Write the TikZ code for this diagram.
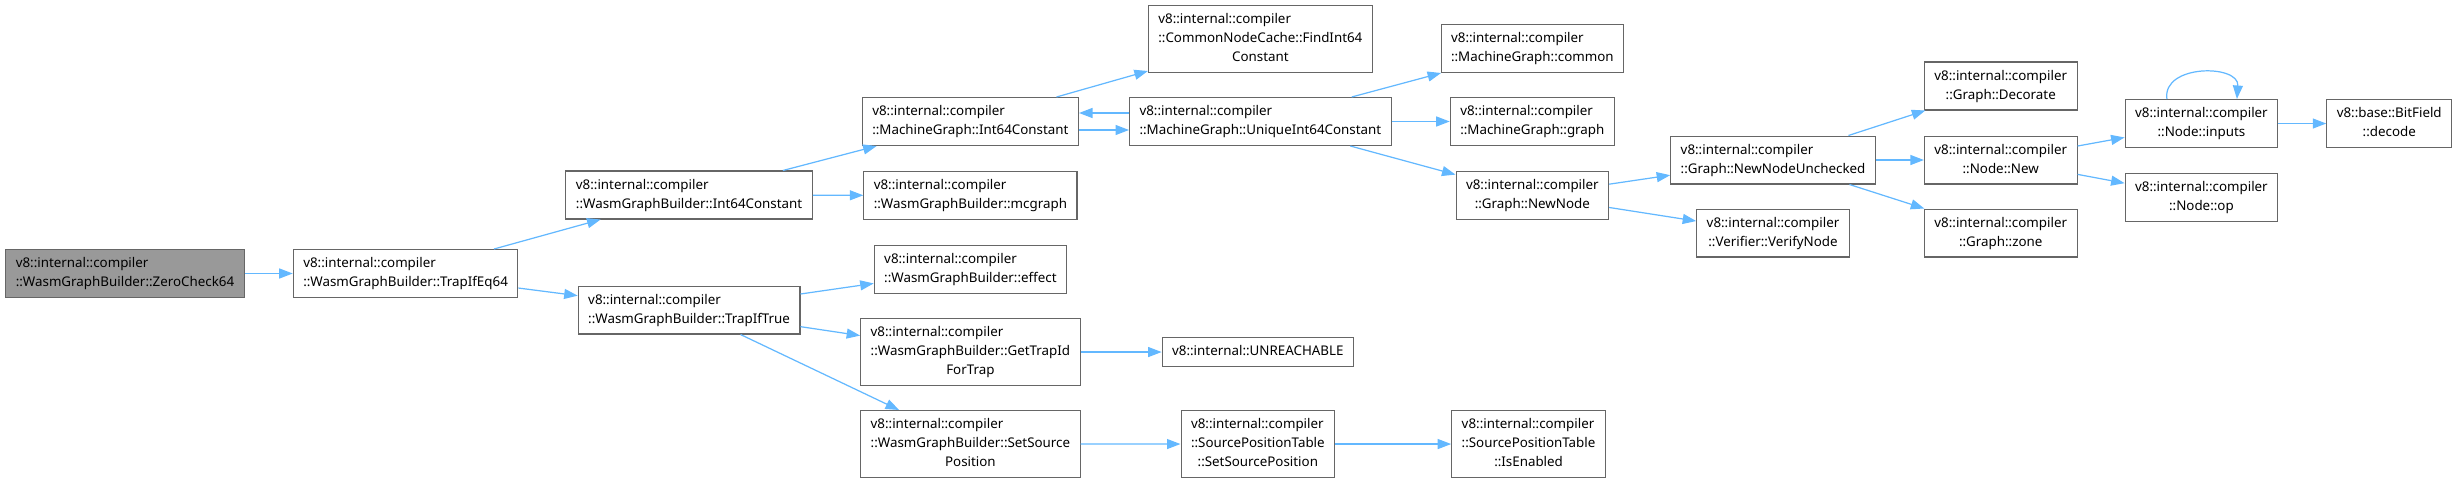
\documentclass[tikz,border=0pt]{standalone}
\usepackage{fontspec}
\setmainfont{Noto Sans}
\usepackage{xcolor}
\usepackage{tikz}
\usetikzlibrary{arrows.meta,positioning}
\definecolor{edgeblue}{RGB}{99,184,255}
\definecolor{boxgray}{RGB}{102,102,102}
\definecolor{rootgray}{RGB}{153,153,153}
\newcommand{\fnlabel}[2]{\begin{tabular}{@{}l@{}}#1\\\multicolumn{1}{@{}c@{}}{#2}\end{tabular}}

\begin{document}
\begin{tikzpicture}[
  fn/.style={draw=boxgray,fill=white,line width=0.6pt,inner xsep=0.2cm,inner ysep=0.1cm,
             font=\fontsize{7.6}{10.8}\selectfont},
  arr/.style={-{Stealth[length=0.27cm,width=0.2cm,inset=0pt]},draw=edgeblue,line width=0.7pt}]
  \useasboundingbox (0,0) rectangle (49.16,-9.64);
  \node[fn,fill=rootgray] (zero) at (2.5,-5.47)
    {\fnlabel{v8::internal::compiler}{::WasmGraphBuilder::ZeroCheck64}};
  \node[fn,right=0.96cm of zero] (eq64)
    {\fnlabel{v8::internal::compiler}{::WasmGraphBuilder::TrapIfEq64}};
  \node[fn,right=0.94cm of eq64,yshift=1.57cm] (wint)
    {\fnlabel{v8::internal::compiler}{::WasmGraphBuilder::Int64Constant}};
  \node[fn,below=1.32cm of wint] (traptrue)
    {\fnlabel{v8::internal::compiler}{::WasmGraphBuilder::TrapIfTrue}};
  \node[fn,right=0.98cm of wint,yshift=1.47cm] (mint)
    {\fnlabel{v8::internal::compiler}{::MachineGraph::Int64Constant}};
  \node[fn,below=0.5cm of mint] (mcgraph)
    {\fnlabel{v8::internal::compiler}{::WasmGraphBuilder::mcgraph}};
  \node[fn,below=0.5cm of mcgraph] (effect)
    {\fnlabel{v8::internal::compiler}{::WasmGraphBuilder::effect}};
  \node[fn,below=0.48cm of effect] (gettrap)
    {\fnlabel{v8::internal::compiler\\::WasmGraphBuilder::GetTrapId}{ForTrap}};
  \node[fn,below=0.48cm of gettrap] (setsrc)
    {\fnlabel{v8::internal::compiler\\::WasmGraphBuilder::SetSource}{Position}};
  \node[fn,right=1.0cm of mint] (unique)
    {\fnlabel{v8::internal::compiler}{::MachineGraph::UniqueInt64Constant}};
  \node[fn,above=0.48cm of unique] (findint)
    {\fnlabel{v8::internal::compiler\\::CommonNodeCache::FindInt64}{Constant}};
  \node[fn,right=1.62cm of gettrap] (unreach)
    {\begin{tabular}{@{}c@{}}v8::internal::UNREACHABLE\end{tabular}};
  \node[fn,below=0.86cm of unreach] (sptset)
    {\fnlabel{v8::internal::compiler\\::SourcePositionTable}{::SetSourcePosition}};
  \node[fn,right=1.16cm of unique] (graph)
    {\fnlabel{v8::internal::compiler}{::MachineGraph::graph}};
  \node[fn,above=0.48cm of graph] (common)
    {\fnlabel{v8::internal::compiler}{::MachineGraph::common}};
  \node[fn,below=0.5cm of graph] (newnode)
    {\fnlabel{v8::internal::compiler}{::Graph::NewNode}};
  \node[fn,right=2.32cm of sptset] (isenabled)
    {\fnlabel{v8::internal::compiler\\::SourcePositionTable}{::IsEnabled}};
  \node[fn,right=1.22cm of newnode,yshift=0.71cm] (unchecked)
    {\fnlabel{v8::internal::compiler}{::Graph::NewNodeUnchecked}};
  \node[fn,below=0.48cm of unchecked] (verify)
    {\fnlabel{v8::internal::compiler}{::Verifier::VerifyNode}};
  \node[fn,right=0.96cm of unchecked] (nodenew)
    {\fnlabel{v8::internal::compiler}{::Node::New}};
  \node[fn,above=0.5cm of nodenew] (decorate)
    {\fnlabel{v8::internal::compiler}{::Graph::Decorate}};
  \node[fn,below=0.48cm of nodenew] (zone)
    {\fnlabel{v8::internal::compiler}{::Graph::zone}};
  \node[fn,right=0.94cm of nodenew,yshift=0.73cm] (inputs)
    {\fnlabel{v8::internal::compiler}{::Node::inputs}};
  \node[fn,below=0.5cm of inputs] (op)
    {\fnlabel{v8::internal::compiler}{::Node::op}};
  \node[fn,right=0.96cm of inputs] (decode)
    {\fnlabel{v8::base::BitField}{::decode}};
  % call edges
  \draw[arr] (zero) -- (eq64);
  \draw[arr] (eq64) -- (wint);
  \draw[arr] (eq64) -- (traptrue);
  \draw[arr] (wint) -- (mint);
  \draw[arr] (wint) -- (mcgraph);
  \draw[arr] (mint) -- (findint);
  \draw[arr] ([yshift=-0.17cm]mint.east) -- ([yshift=-0.17cm]unique.west);
  \draw[arr] ([yshift=0.17cm]unique.west) -- ([yshift=0.17cm]mint.east);
  \draw[arr] (unique) -- (common);
  \draw[arr] (unique) -- (graph);
  \draw[arr] (unique) -- (newnode);
  \draw[arr] (newnode) -- (unchecked);
  \draw[arr] (newnode) -- (verify);
  \draw[arr] (unchecked) -- (decorate);
  \draw[arr] (unchecked) -- (nodenew);
  \draw[arr] (unchecked) -- (zone);
  \draw[arr] (nodenew) -- (inputs);
  \draw[arr] (nodenew) -- (op);
  \draw[arr] ([xshift=-0.69cm]inputs.north) .. controls +(-0.1,0.7) and +(0.05,0.7) .. ([xshift=0.71cm]inputs.north);
  \draw[arr] (inputs) -- (decode);
  \draw[arr] (traptrue) -- (effect);
  \draw[arr] (traptrue) -- (gettrap);
  \draw[arr] (traptrue) -- (setsrc);
  \draw[arr] (gettrap) -- (unreach);
  \draw[arr] (setsrc) -- (sptset);
  \draw[arr] (sptset) -- (isenabled);
\end{tikzpicture}
\end{document}
